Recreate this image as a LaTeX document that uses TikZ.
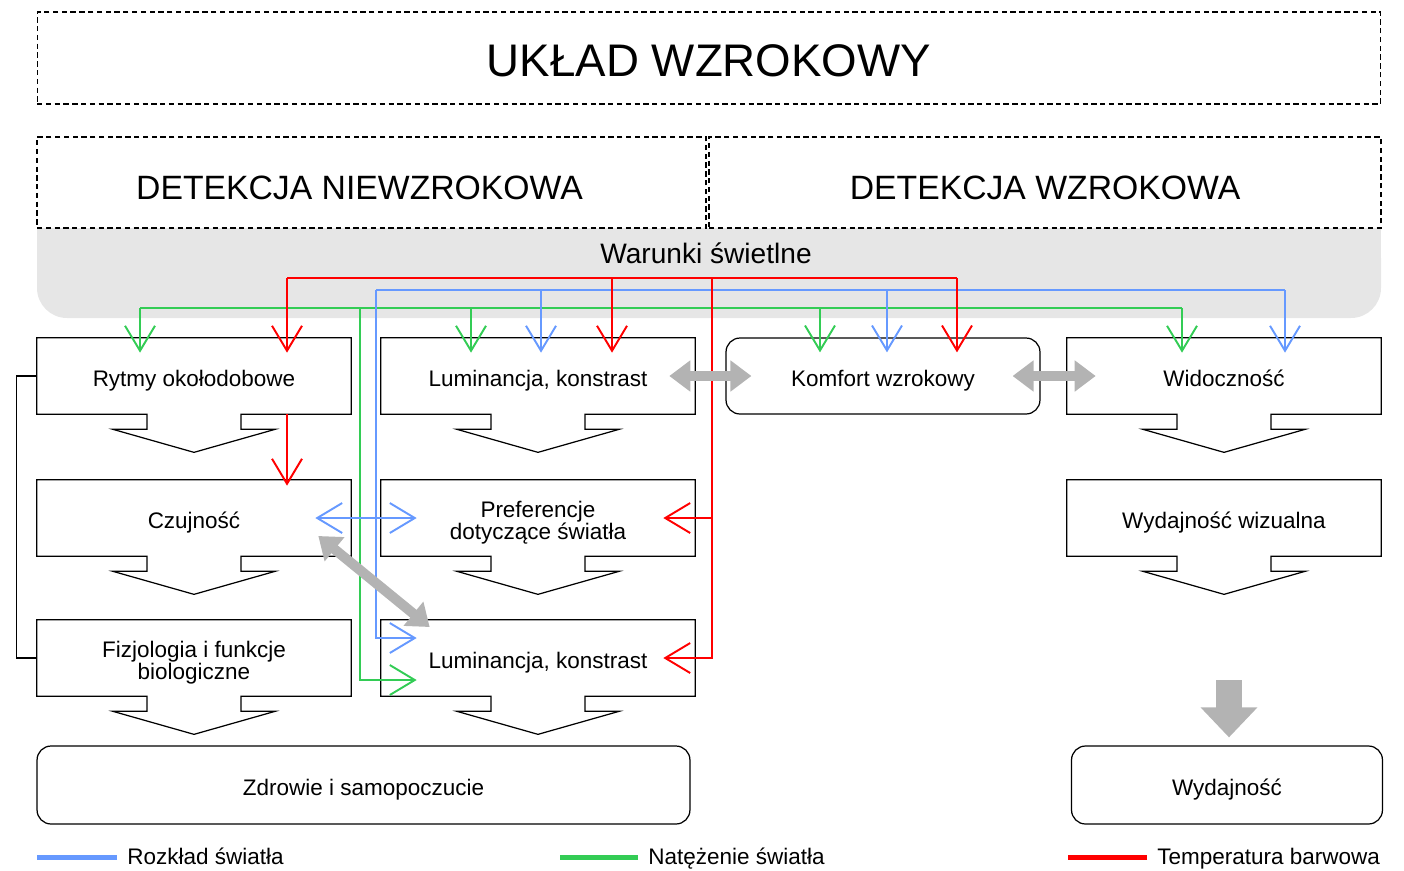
\documentclass[tikz,border=0pt]{standalone}
\usepackage{fontspec}
\setmainfont{Liberation Sans}
\usetikzlibrary{arrows.meta,calc}
\definecolor{lblue}{RGB}{102,153,255}
\definecolor{lgreen}{RGB}{51,204,85}
\definecolor{lred}{RGB}{255,0,0}
\definecolor{bandgray}{RGB}{230,230,230}
\definecolor{arrgray}{RGB}{179,179,179}
\tikzset{boxline/.style={draw=black,line width=0.7pt}}
\tikzset{basic/.style={inner sep=0pt,align=center,
                       font=\fontsize{12.8pt}{12.5pt}\selectfont,
                       execute at begin node={\rule[-3.2pt]{0pt}{18.9pt}},
                       minimum width=6.28cm,minimum height=1.52cm}}
\tikzset{chevbox/.style={basic}}
\tikzset{twoline/.style={execute at begin node={\rule[-3.2pt]{0pt}{30.7pt}}}}
\tikzset{roundbox/.style={basic,boxline,rounded corners=0.28cm}}
\tikzset{lowbox/.style={roundbox,minimum height=1.56cm,
                        execute at begin node={\rule[-3.2pt]{0pt}{15.5pt}}}}
\tikzset{dashbox/.style={draw=black,line width=0.7pt,
                         dash pattern=on 3pt off 2pt,inner sep=0pt}}
\tikzset{legtext/.style={anchor=base west,inner sep=0pt,
                         font=\fontsize{12.8pt}{12.5pt}\selectfont}}
\tikzset{vt/.tip={Straight Barb[length=0.5cm,width=0.6cm]}}
\tikzset{gt/.tip={Triangle[length=0.42cm,width=0.6cm]}}
\tikzset{bt/.tip={Triangle[length=0.6cm,width=1.1cm]}}
\tikzset{redline/.style={draw=lred,line width=1.1pt}}
\tikzset{blueline/.style={draw=lblue,line width=1.1pt}}
\tikzset{greenline/.style={draw=lgreen,line width=1.1pt}}
\tikzset{grayarrow/.style={draw=arrgray,line width=0.2cm,gt-gt}}
\tikzset{bigarrow/.style={draw=arrgray,line width=0.52cm,-bt}}
\newcommand{\drawchevron}[1]{\draw[boxline] (#1.north west) -- (#1.north east)
                        -- (#1.south east) -- ($(#1.south)+(47,0)$) -- ++(0,15)
                        -- ++(34,0) -- ($(#1.south)+(0,38)$)
                        -- ($(#1.south)+(-81,15)$) -- ++(34,0) -- ++(0,-15)
                        -- (#1.south west) -- cycle;}

\begin{document}
\begin{tikzpicture}[x=0.02cm,y=-0.02cm]
    \useasboundingbox (0,0) rectangle (1404,870);

    % band with lighting conditions
    \fill[bandgray,rounded corners=0.6cm] (37,228) rectangle (1381,318);
    \fill[bandgray] (37,228) rectangle (1381,270);
    \node[font=\fontsize{16pt}{18pt}\selectfont] (warunki) at (706,253) {Warunki świetlne};

    % headers
    \node[dashbox,minimum width=26.88cm,minimum height=1.84cm,
          text height=21.6pt,text depth=0pt,
          font=\fontsize{26pt}{30pt}\selectfont] (uklad) at (709,58) {UKŁAD WZROKOWY};
    \node[dashbox,minimum width=13.38cm,minimum height=1.82cm,
          text height=18.8pt,text depth=0pt,
          font=\fontsize{19.2pt}{22pt}\selectfont] (detnw) at (371.5,182.5) {\hspace*{-0.48cm}DETEKCJA NIEWZROKOWA};
    \node[dashbox,minimum width=13.44cm,minimum height=1.82cm,
          text height=18.8pt,text depth=0pt,
          font=\fontsize{19.2pt}{22pt}\selectfont] (detw) at (1045,182.5) {DETEKCJA WZROKOWA};

    % boxes
    \node[chevbox] (ryt) at (194,376) {Rytmy okołodobowe};
    \node[chevbox] (lum1) at (538,376) {Luminancja, konstrast};
    \node[roundbox] (kom) at (883,376) {Komfort wzrokowy};
    \node[chevbox] (wid) at (1224,376) {Widoczność};
    \node[chevbox] (czu) at (194,518) {Czujność};
    \node[chevbox,twoline] (pref) at (538,518) {Preferencje\\dotyczące światła};
    \node[chevbox] (wydw) at (1224,518) {Wydajność wizualna};
    \node[chevbox,twoline] (fiz) at (194,658) {Fizjologia i funkcje\\biologiczne};
    \node[chevbox] (lum2) at (538,658) {Luminancja, konstrast};
    \node[lowbox,minimum width=13.06cm] (zdr) at (363.5,785) {Zdrowie i samopoczucie};
    \node[lowbox,minimum width=6.22cm] (wyd) at (1227,785) {Wydajność};

    \foreach \b in {ryt,lum1,wid,czu,pref,wydw,fiz,lum2}{
        \drawchevron{\b}
    }

    % green: light intensity
    \coordinate (g1) at (140,308);
    \coordinate (g2) at (360,308);
    \coordinate (g3) at (471,308);
    \coordinate (g4) at (820,308);
    \coordinate (g5) at (1182,308);
    \draw[greenline] (g1) -- (g5);
    \foreach \p/\q in {g1/ryt,g3/lum1,g4/kom,g5/wid}{
        \draw[greenline,-vt] (\p) -- ($(\p |- \q.north)+(0,15)$);
    }
    \draw[greenline,-vt] (g2) |- ($(lum2.west)+(36,22)$);

    % blue: light distribution
    \coordinate (b1) at (376,290);
    \coordinate (b2) at (541,290);
    \coordinate (b3) at (887,290);
    \coordinate (b4) at (1285,290);
    \draw[blueline] (b1) -- (b4);
    \foreach \p/\q in {b2/lum1,b3/kom,b4/wid}{
        \draw[blueline,-vt] (\p) -- ($(\p |- \q.north)+(0,15)$);
    }
    \draw[blueline,-vt] (b1) |- ($(lum2.west)+(36,-20)$);
    \draw[blueline,vt-vt] ($(czu.east)+(-36,0)$) -- ($(pref.west)+(36,0)$);

    % red: colour temperature
    \coordinate (r1) at (287,278);
    \coordinate (r2) at (612,278);
    \coordinate (r3) at (712,278);
    \coordinate (r4) at (957,278);
    \draw[redline] (r1) -- (r4);
    \foreach \p/\q in {r1/ryt,r2/lum1,r4/kom}{
        \draw[redline,-vt] (\p) -- ($(\p |- \q.north)+(0,15)$);
    }
    \draw[redline,-vt] (r3) |- ($(lum2.east)+(-32,0)$);
    \draw[redline,-vt] (r3 |- pref.east) -- ($(pref.east)+(-32,0)$);
    \draw[redline,-vt] (r1 |- ryt.south) -- ($(r1 |- czu.north)+(0,6)$);

    % gray links
    \draw[grayarrow] ($(lum1.east)+(-26,0)$) -- ($(kom.west)+(26,0)$);
    \draw[grayarrow] ($(kom.east)+(-28,0)$) -- ($(wid.west)+(29,0)$);
    \draw[grayarrow] ($(czu.east)+(-33,18)$) -- ($(lum2.west)+(49,-31)$);
    \draw[bigarrow] ($(wydw.south)+(5,124)$) -- ($(wyd.north)+(2,-8)$);

    % bracket on the left
    \draw[boxline] (ryt.west) -- ++(-20,0) |- (fiz.west);

    % legend
    \node[legtext] (lrozk) at (127,864) {Rozkład światła};
    \node[legtext] (lnat) at (648,864) {Natężenie światła};
    \node[legtext] (ltemp) at (1157,864) {Temperatura barwowa};
    \draw[blueline,line width=0.1cm] ($(lrozk.west |- 0,857)+(-10,0)$) -- ++(-80,0);
    \draw[greenline,line width=0.1cm] ($(lnat.west |- 0,857)+(-10,0)$) -- ++(-78,0);
    \draw[redline,line width=0.1cm] ($(ltemp.west |- 0,857)+(-10,0)$) -- ++(-79,0);
\end{tikzpicture}
\end{document}
